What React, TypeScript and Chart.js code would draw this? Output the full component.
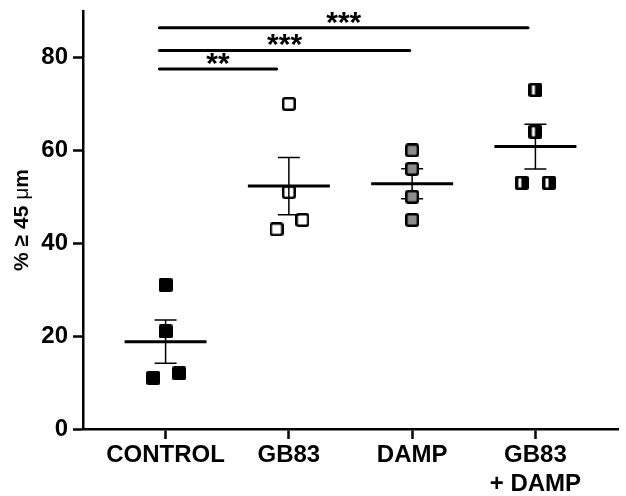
import { useEffect, useRef } from 'react';
import { Chart, registerables } from 'chart.js';

Chart.register(...registerables);

// Group labels along the x axis
const categories: (string | string[])[] = ['CONTROL', 'GB83', 'DAMP', ['GB83', '+ DAMP']];

// Replicate values (% of cells >= 45 um) for each group
const controlValues = [31, 21, 11, 12];
const gb83Values = [70, 51, 43, 45];
const dampValues = [60, 56, 50, 45];
const gb83DampValues = [73, 64, 53, 53];

// Horizontal spread of the replicate points, in category units
const controlSpread = [0, 0, -0.1, 0.11];
const gb83Spread = [0, 0, -0.1, 0.11];
const dampSpread = [0, 0, 0, 0];
const gb83DampSpread = [0, 0, -0.11, 0.11];

// Group mean and standard error
const groupMeans = [18.8, 52.3, 52.8, 60.8];
const groupSem = [4.65, 6.15, 3.25, 4.8];

const yTicks = [0, 20, 40, 60, 80];

// Significance brackets: start / end (category units), height (% units), label
const sigFrom = [-0.05, -0.05, -0.05];
const sigTo = [0.9, 1.98, 2.94];
const sigLevel = [77.5, 81.5, 86.4];
const sigLabels = ['**', '***', '***'];

const FONT = '"Liberation Sans", Arial, Helvetica, sans-serif';

function roundedRect(ctx: CanvasRenderingContext2D, x: number, y: number, w: number, h: number, r: number) {
  ctx.beginPath();
  ctx.moveTo(x + r, y);
  ctx.lineTo(x + w - r, y);
  ctx.quadraticCurveTo(x + w, y, x + w, y + r);
  ctx.lineTo(x + w, y + h - r);
  ctx.quadraticCurveTo(x + w, y + h, x + w - r, y + h);
  ctx.lineTo(x + r, y + h);
  ctx.quadraticCurveTo(x, y + h, x, y + h - r);
  ctx.lineTo(x, y + r);
  ctx.quadraticCurveTo(x, y, x + r, y);
  ctx.closePath();
}

function makeMarker(kind: 'filled' | 'open' | 'grey' | 'half'): HTMLCanvasElement {
  const size = 14;
  const c = document.createElement('canvas');
  c.width = size;
  c.height = size;
  const ctx = c.getContext('2d')!;
  ctx.strokeStyle = '#000';
  ctx.lineWidth = 2.5;
  if (kind === 'filled') {
    roundedRect(ctx, 0, 0, size, size, 2);
    ctx.fillStyle = '#000';
    ctx.fill();
  } else if (kind === 'open') {
    roundedRect(ctx, 1.25, 1.25, size - 2.5, size - 2.5, 2);
    ctx.stroke();
  } else if (kind === 'grey') {
    roundedRect(ctx, 1.25, 1.25, size - 2.5, size - 2.5, 2);
    ctx.fillStyle = '#8c8c8c';
    ctx.fill();
    ctx.stroke();
  } else {
    roundedRect(ctx, 0, 0, size, size, 2);
    ctx.fillStyle = '#000';
    ctx.fill();
    ctx.fillStyle = '#fff';
    ctx.fillRect(3.5, 2.5, 3, 9);
  }
  return c;
}

const toPoints = (values: number[], spread: number[], group: number) =>
  values.map((v, i) => ({ x: group + spread[i], y: v }));

const overlayPlugin = {
  id: 'overlay',
  beforeDatasetsDraw(chart: any) {
    const { ctx, scales } = chart;
    const xs = scales.x;
    const ys = scales.y;
    ctx.save();
    ctx.strokeStyle = '#000';
    groupMeans.forEach((m, i) => {
      const cx = xs.getPixelForValue(i);
      const my = ys.getPixelForValue(m);
      const hi = ys.getPixelForValue(m + groupSem[i]);
      const lo = ys.getPixelForValue(m - groupSem[i]);
      // error bar
      ctx.lineWidth = 1.5;
      ctx.beginPath();
      ctx.moveTo(cx, hi);
      ctx.lineTo(cx, lo);
      ctx.moveTo(cx - 11, hi);
      ctx.lineTo(cx + 11, hi);
      ctx.moveTo(cx - 11, lo);
      ctx.lineTo(cx + 11, lo);
      ctx.stroke();
      // mean line
      ctx.lineWidth = 3;
      ctx.beginPath();
      ctx.moveTo(cx - 41, my);
      ctx.lineTo(cx + 41, my);
      ctx.stroke();
    });
    ctx.restore();
  },
  afterDraw(chart: any) {
    const { ctx, scales, chartArea } = chart;
    const xs = scales.x;
    const ys = scales.y;
    ctx.save();
    // significance brackets
    ctx.strokeStyle = '#000';
    ctx.fillStyle = '#000';
    ctx.lineWidth = 3;
    ctx.lineCap = 'round';
    ctx.font = `bold 30px ${FONT}`;
    ctx.textAlign = 'center';
    ctx.textBaseline = 'alphabetic';
    sigLevel.forEach((lvl, i) => {
      const x0 = xs.getPixelForValue(sigFrom[i]);
      const x1 = xs.getPixelForValue(sigTo[i]);
      const y = ys.getPixelForValue(lvl);
      ctx.beginPath();
      ctx.moveTo(x0, y);
      ctx.lineTo(x1, y);
      ctx.stroke();
      ctx.fillText(sigLabels[i], (x0 + x1) / 2, y + 4);
    });

    // y axis title with an upright-weight micro sign
    const parts: [string, string][] = [
      ['% \u2265 45 ', `bold 21px ${FONT}`],
      ['\u03bc', `21px ${FONT}`],
      ['m', `bold 21px ${FONT}`],
    ];
    let total = 0;
    const widths = parts.map(([t, f]) => {
      ctx.font = f;
      const w = ctx.measureText(t).width;
      total += w;
      return w;
    });
    ctx.translate(22, (chartArea.top + chartArea.bottom) / 2);
    ctx.rotate(-Math.PI / 2);
    ctx.textAlign = 'left';
    ctx.textBaseline = 'middle';
    let px = -total / 2;
    parts.forEach(([t, f], i) => {
      ctx.font = f;
      ctx.fillText(t, px, 0);
      px += widths[i];
    });
    ctx.restore();
  },
};

export default function App() {
  const canvasRef = useRef<HTMLCanvasElement | null>(null);

  useEffect(() => {
    const canvas = canvasRef.current;
    if (!canvas) return;

    const filled = makeMarker('filled');
    const open = makeMarker('open');
    const grey = makeMarker('grey');
    const half = makeMarker('half');

    const chart = new Chart(canvas, {
      type: 'scatter',
      data: {
        datasets: [
          { label: 'CONTROL', data: toPoints(controlValues, controlSpread, 0), pointStyle: filled as any, pointRadius: 7 },
          { label: 'GB83', data: toPoints(gb83Values, gb83Spread, 1), pointStyle: open as any, pointRadius: 7 },
          { label: 'DAMP', data: toPoints(dampValues, dampSpread, 2), pointStyle: grey as any, pointRadius: 7 },
          { label: 'GB83 + DAMP', data: toPoints(gb83DampValues, gb83DampSpread, 3), pointStyle: half as any, pointRadius: 7 },
        ],
      },
      options: {
        animation: false,
        responsive: false,
        maintainAspectRatio: false,
        devicePixelRatio: 1,
        layout: { padding: { top: 11, right: 1, left: 0, bottom: 0 } },
        plugins: {
          legend: { display: false },
          tooltip: { enabled: false },
        },
        scales: {
          x: {
            type: 'linear',
            min: -0.67,
            max: 3.67,
            afterBuildTicks: (s: any) => {
              s.ticks = categories.map((_, i) => ({ value: i }));
            },
            afterFit: (s: any) => {
              s.height = 67;
              s.paddingLeft = 0;
              s.paddingRight = 0;
            },
            ticks: {
              color: '#000',
              padding: 2,
              maxRotation: 0,
              autoSkip: false,
              font: { family: FONT, size: 24, weight: 'bold', lineHeight: 1.2 },
              callback: (v: any) => categories[Math.round(Number(v))] as any,
            },
            grid: {
              drawOnChartArea: false,
              drawTicks: true,
              tickLength: 10,
              tickWidth: 2.5,
              tickColor: '#000',
            },
            border: { display: true, color: '#000', width: 2.5 },
          },
          y: {
            type: 'linear',
            min: 0,
            max: 90,
            afterBuildTicks: (s: any) => {
              s.ticks = yTicks.map((v) => ({ value: v }));
            },
            afterFit: (s: any) => {
              s.width = 83;
              s.paddingTop = 0;
              s.paddingBottom = 0;
            },
            ticks: {
              color: '#000',
              padding: 5,
              font: { family: FONT, size: 24, weight: 'bold' },
            },
            grid: {
              drawOnChartArea: false,
              drawTicks: true,
              tickLength: 10,
              tickWidth: 2.5,
              tickColor: '#000',
            },
            border: { display: true, color: '#000', width: 2.5 },
          },
        },
      },
      plugins: [overlayPlugin],
    });

    return () => chart.destroy();
  }, []);

  return (
    <div style={{ position: 'fixed', left: 0, top: 0, width: 626, height: 496, background: '#fff' }}>
      <canvas ref={canvasRef} width={626} height={496} style={{ display: 'block', width: 626, height: 496 }} />
    </div>
  );
}
